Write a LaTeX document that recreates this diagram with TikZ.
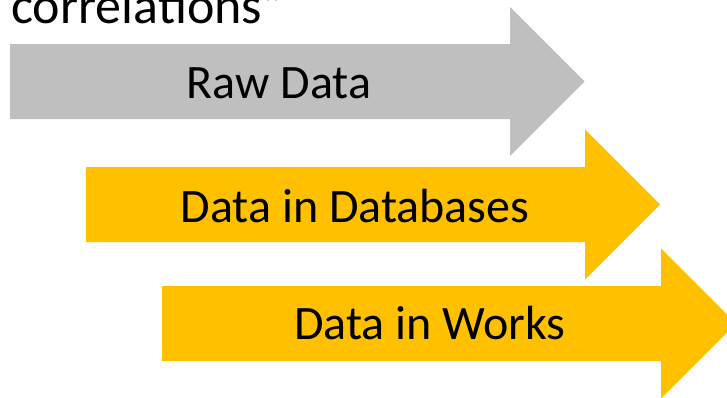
\documentclass[tikz,border=0pt]{standalone}
\usepackage{fontspec}
\setmainfont{Carlito}
\definecolor{rawgray}{HTML}{BFBFBF}
\definecolor{amber}{HTML}{FFC000}
\tikzset{
  lbl/.style={anchor=base, inner sep=0pt, font=\fontsize{48}{57}\selectfont, text=black},
}
\begin{document}
\begin{tikzpicture}[x=1pt,y=-1pt]
\useasboundingbox (0,0) rectangle (727,397);
\clip (0,0) rectangle (727,397);
% arrows
\fill[rawgray] (10,44) -- (510,44) -- (510,7) -- (584.5,81.5) -- (510,156) -- (510,119) -- (10,119) -- cycle;
\fill[amber] (86,167) -- (585,167) -- (585,129.5) -- (660,204.5) -- (585,279.5) -- (585,242) -- (86,242) -- cycle;
\fill[amber] (162,286) -- (661,286) -- (661,248.5) -- (736,323.5) -- (661,398.5) -- (661,361) -- (162,361) -- cycle;
% labels
\node[lbl] (raw) at (279,98) {Raw Data};
\node[lbl] (db) at (355,222) {Data in Databases};
\node[lbl] (works) at (430,339) {Data in Works};
\node[anchor=base west, inner sep=0pt, font=\fontsize{52}{62}\selectfont] (corr) at (11,23) {correlations”};
\end{tikzpicture}
\end{document}
